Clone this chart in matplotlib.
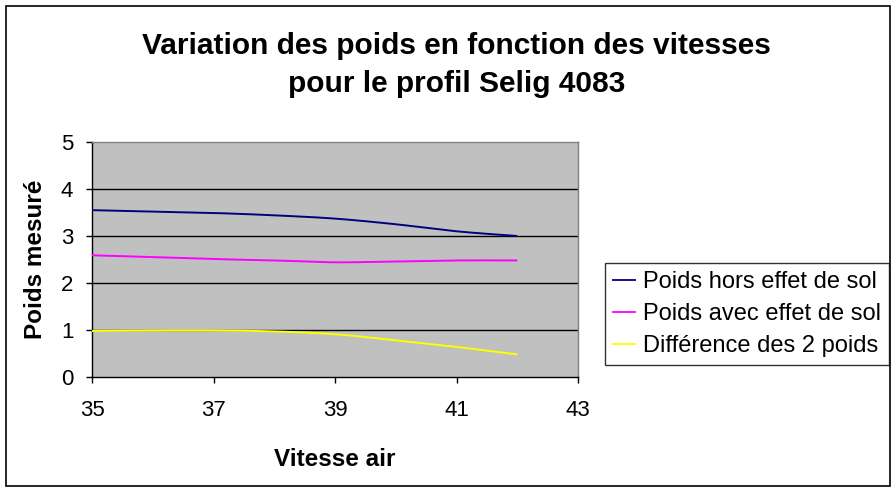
import numpy as np
import matplotlib
matplotlib.use("Agg")
import matplotlib.pyplot as plt
from matplotlib.patches import Rectangle
from matplotlib.lines import Line2D

plt.rcParams['font.family'] = ['Liberation Sans', 'DejaVu Sans']

vitesse = [35, 36, 37, 38, 39, 40, 41, 42]
poids_hors = [3.55, 3.52, 3.49, 3.44, 3.37, 3.25, 3.10, 3.00]
poids_avec = [2.59, 2.55, 2.51, 2.48, 2.44, 2.46, 2.48, 2.48]
difference = [0.98, 0.99, 0.99, 0.97, 0.91, 0.78, 0.64, 0.48]

series_names = ["Poids hors effet de sol", "Poids avec effet de sol", "Différence des 2 poids"]
series_colors = ["#000080", "#FF00FF", "#FFFF00"]
x_ticks = [35, 37, 39, 41, 43]
y_ticks = [0, 1, 2, 3, 4, 5]


def smooth(x, y, n=30):
    # Catmull-Rom smoothing (Excel-like smoothed line) through the data points
    x = np.asarray(x, float)
    y = np.asarray(y, float)
    xs, ys = [], []
    for i in range(len(x) - 1):
        x0 = x[i - 1] if i > 0 else x[i]
        y0 = y[i - 1] if i > 0 else y[i]
        x3 = x[i + 2] if i + 2 < len(x) else x[i + 1]
        y3 = y[i + 2] if i + 2 < len(x) else y[i + 1]
        x1, y1, x2, y2 = x[i], y[i], x[i + 1], y[i + 1]
        c1x, c1y = x1 + (x2 - x0) / 6, y1 + (y2 - y0) / 6
        c2x, c2y = x2 - (x3 - x1) / 6, y2 - (y3 - y1) / 6
        t = np.linspace(0, 1, n)
        bx = (1 - t) ** 3 * x1 + 3 * (1 - t) ** 2 * t * c1x + 3 * (1 - t) * t ** 2 * c2x + t ** 3 * x2
        by = (1 - t) ** 3 * y1 + 3 * (1 - t) ** 2 * t * c1y + 3 * (1 - t) * t ** 2 * c2y + t ** 3 * y2
        xs.extend(bx)
        ys.extend(by)
    return np.array(xs), np.array(ys)


W, H = 896, 491
fig = plt.figure(figsize=(8.96, 4.91), dpi=100)
fig.patch.set_facecolor("white")
fig.add_artist(Rectangle((5.5 / W, 1 - 485.5 / H), (890 - 5.5) / W, (485.5 - 5.5) / H,
                         transform=fig.transFigure, fill=False, edgecolor="black", lw=1.2))

ax = fig.add_axes([92 / W, 1 - 377 / H, (578 - 92) / W, (377 - 142) / H])
ax.set_facecolor("#C0C0C0")

for yv, name, col in zip([poids_hors, poids_avec, difference], series_names, series_colors):
    sx, sy = smooth(vitesse, yv)
    ax.plot(sx, sy, color=col, lw=1.4, solid_capstyle="butt", zorder=3)

ax.set_xlim(35, 43)
ax.set_ylim(0, 5)
ax.set_xticks(x_ticks)
ax.set_yticks(y_ticks)
ax.set_xticklabels([str(v) for v in x_ticks], fontsize=16)
ax.set_yticklabels([str(v) for v in y_ticks], fontsize=16)
ax.tick_params(direction="out", length=4.5, width=1, color="black")
ax.tick_params(axis="x", pad=12)
ax.tick_params(axis="y", pad=9)
for yv in y_ticks[1:-1]:
    ax.axhline(yv, color="black", lw=1, zorder=1)

ax.spines["left"].set_color("black")
ax.spines["bottom"].set_color("black")
ax.spines["top"].set_color("#808080")
ax.spines["right"].set_color("#808080")
for s in ax.spines.values():
    s.set_linewidth(1)

fig.text(456 / W, 1 - 46.5 / H, "Variation des poids en fonction des vitesses",
         ha="center", va="center", fontsize=21.5, fontweight="bold")
fig.text(457 / W, 1 - 83.5 / H, "pour le profil Selig 4083",
         ha="center", va="center", fontsize=21.5, fontweight="bold")
fig.text(335 / W, 1 - 459 / H, "Vitesse air", ha="center", va="center",
         fontsize=17.5, fontweight="bold")
fig.text(35 / W, 1 - 259 / H, "Poids mesuré", ha="center", va="center",
         fontsize=17.5, fontweight="bold", rotation=90)

handles = [Line2D([0], [0], color=c, lw=1.3) for c in series_colors]
leg = fig.legend(handles, series_names, loc="upper left",
                 bbox_to_anchor=(605 / W, 1 - 263 / H), fontsize=17,
                 frameon=True, fancybox=False, handlelength=0.9, handletextpad=0.35,
                 borderpad=0.35, labelspacing=0.42, borderaxespad=0)
leg.get_frame().set_edgecolor("black")
leg.get_frame().set_linewidth(1)

fig.savefig("out.png", dpi=100)
